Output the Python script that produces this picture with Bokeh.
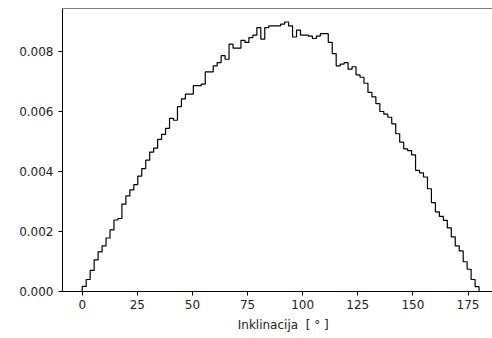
import numpy as np
from bokeh.plotting import figure
from bokeh.models import FixedTicker, NumeralTickFormatter, Span, Range1d
from bokeh.embed import file_html
from bokeh.resources import INLINE

# histogram (density) of inclination, 100 bins over 0..180 degrees
bin_lo = 0.0
bin_hi = 180.0
density = [
    0.00017, 0.00040, 0.00070, 0.00105, 0.00132, 0.00152, 0.00178, 0.00205, 0.00238, 0.00243,
    0.00291, 0.00318, 0.00338, 0.00356, 0.00384, 0.00409, 0.00437, 0.00464, 0.00477, 0.00506,
    0.00523, 0.00543, 0.00576, 0.00570, 0.00615, 0.00641, 0.00657, 0.00657, 0.00685, 0.00685,
    0.00690, 0.00731, 0.00731, 0.00751, 0.00762, 0.00785, 0.00773, 0.00823, 0.00810, 0.00810,
    0.00836, 0.00829, 0.00845, 0.00853, 0.00878, 0.00840, 0.00878, 0.00884, 0.00884, 0.00884,
    0.00890, 0.00897, 0.00884, 0.00847, 0.00870, 0.00853, 0.00853, 0.00850, 0.00842, 0.00850,
    0.00858, 0.00858, 0.00829, 0.00792, 0.00751, 0.00757, 0.00762, 0.00740, 0.00748, 0.00721,
    0.00713, 0.00693, 0.00663, 0.00648, 0.00625, 0.00599, 0.00590, 0.00580, 0.00558, 0.00525,
    0.00497, 0.00475, 0.00469, 0.00455, 0.00403, 0.00395, 0.00381, 0.00342, 0.00296, 0.00265,
    0.00250, 0.00237, 0.00212, 0.00182, 0.00152, 0.00135, 0.00099, 0.00074, 0.00040, 0.00016,
]
x_ticks = [0, 25, 50, 75, 100, 125, 150, 175]
y_ticks = [0.000, 0.002, 0.004, 0.006, 0.008]
x_label = "\u00a0\u00a0\u00a0Inklinacija\u00a0\u00a0[\u00a0°\u00a0]"

vals = np.array(density)
edges = np.linspace(bin_lo, bin_hi, len(vals) + 1)
xs = np.repeat(edges, 2)
ys = np.concatenate([[0.0], np.repeat(vals, 2), [0.0]])

ymax = vals.max() * 1.05

p = figure(width=492, height=338, output_backend="svg", toolbar_location=None,
           x_range=Range1d(-8.95, 186.1), y_range=Range1d(0, ymax),
           min_border_left=62, min_border_right=0, min_border_top=8, min_border_bottom=47)
p.outline_line_color = None
p.grid.visible = False
p.background_fill_color = "white"
p.border_fill_color = "white"

p.line(xs, ys, line_color="black", line_width=1.2)

p.add_layout(Span(location=ymax, dimension="width", line_color="black", line_width=1))

FONT = "DejaVu Sans"
for ax in (p.xaxis[0], p.yaxis[0]):
    ax.axis_line_color = "black"
    ax.axis_line_width = 1
    ax.major_tick_line_color = "black"
    ax.major_tick_out = 4
    ax.major_tick_in = 0
    ax.minor_tick_line_color = None
    ax.major_label_text_font = FONT
    ax.major_label_text_font_size = "12px"
    ax.major_label_text_color = "#222222"

p.xaxis[0].ticker = FixedTicker(ticks=x_ticks)
p.yaxis[0].ticker = FixedTicker(ticks=y_ticks)
p.yaxis[0].formatter = NumeralTickFormatter(format="0.000")
p.xaxis[0].major_label_standoff = 4
p.yaxis[0].major_label_standoff = 5
p.xaxis[0].axis_label = x_label
p.xaxis[0].axis_label_text_font = FONT
p.xaxis[0].axis_label_text_font_size = "12px"
p.xaxis[0].axis_label_text_font_style = "normal"
p.xaxis[0].axis_label_text_color = "#222222"
p.xaxis[0].axis_label_standoff = 6

open("out.html", "w").write(file_html(p, INLINE))
